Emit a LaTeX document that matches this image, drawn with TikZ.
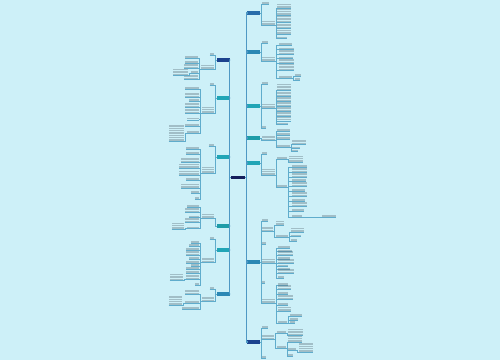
\documentclass[tikz,border=0pt]{standalone}
\usepackage{tikz}
\usetikzlibrary{positioning,calc}

\definecolor{bgcyan}{RGB}{205,240,248}
\definecolor{navy}{RGB}{20,30,92}
\definecolor{txtgray}{RGB}{90,110,120}
\definecolor{wireblue}{RGB}{95,172,204}
\definecolor{trunkblue}{RGB}{78,152,196}
\definecolor{cdark}{RGB}{27,66,142}
\definecolor{cblue}{RGB}{40,108,170}
\definecolor{cmid}{RGB}{43,136,181}
\definecolor{cteal}{RGB}{33,165,182}
\definecolor{cteal2}{RGB}{30,156,168}

\newcommand{\px}{0.02cm}
% text on the right: name, left end, underline y, width, lines
\newcommand{\rtxt}[5]{\node[txtline=#5,anchor=south west,minimum width=#4*\px,minimum height=#5*2.3*\px] (#1) at (#2,#3) {};
  \draw[uline] (#1.south west) -- (#1.south east);}
% text on the left: name, right end, underline y, width, lines
\newcommand{\ltxt}[5]{\node[txtline=#5,anchor=south east,minimum width=#4*\px,minimum height=#5*2.3*\px] (#1) at (#2,#3) {};
  \draw[uline] (#1.south west) -- (#1.south east);}
\newcommand{\rlink}[2]{\draw[wire] (#1.south east) -- ++(1.5,0) |- (#2.south west);}
\newcommand{\llink}[2]{\draw[wire] (#1.south west) -- ++(-1.5,0) |- (#2.south east);}
\newcommand{\rtie}[2]{\draw[wire] (#1.east) -- ++(1,0) |- (#2.south west);}
\newcommand{\ltie}[2]{\draw[wire] (#1.west) -- ++(-1,0) |- (#2.south east);}

\begin{document}
\begin{tikzpicture}[x=0.02cm,y=-0.02cm,
  txtline/.style={inner sep=0pt,outer sep=0pt,
    path picture={\foreach \k in {1,...,#1}
      \fill[txtgray,opacity=0.38] ($(path picture bounding box.north west)+(0.3,{(\k-1)*2.3+0.5})$)
        rectangle ($(path picture bounding box.north east)+(-0.3,{(\k-1)*2.3+1.8})$);}},
  uline/.style={draw=wireblue,line width=0.2pt},
  wire/.style={draw=wireblue,line width=0.25pt},
  trunk/.style={draw=trunkblue,line width=0.8pt},
  topic/.style={inner sep=0pt,outer sep=0pt,minimum width=13*\px,minimum height=3.2*\px},
  rootbox/.style={inner sep=0pt,outer sep=0pt,fill=navy,minimum width=14*\px,minimum height=3.8*\px}]

\fill[bgcyan] (0,0) rectangle (500,360);
\useasboundingbox (0,0) rectangle (500,360);

\node[rootbox] (root) at (238,177.5) {};

% main topics, right
\node[topic,fill=cblue] (r1) at (253.5,13) {};
\node[topic,fill=cmid] (r2) at (253.5,52) {};
\node[topic,fill=cteal] (r3) at (253.5,106) {};
\node[topic,fill=cteal2] (r4) at (253.5,138) {};
\node[topic,fill=cteal] (r5) at (253.5,163) {};
\node[topic,fill=cmid] (r6) at (253.5,262) {};
\node[topic,fill=cdark] (r7) at (253.5,342) {};
% main topics, left
\node[topic,fill=cdark] (l1) at (223,60) {};
\node[topic,fill=cteal] (l2) at (223,98) {};
\node[topic,fill=cteal] (l3) at (223,157) {};
\node[topic,fill=cteal2] (l4) at (223,226) {};
\node[topic,fill=cteal] (l5) at (223,250) {};
\node[topic,fill=cmid] (l6) at (223,294) {};

\foreach \t in {r1,r2,r3,r4,r5,r6,r7}
  \draw[trunk] (root.east) -- ++(1.5,0) |- (\t.west);
\foreach \t in {l1,l2,l3,l4,l5,l6}
  \draw[trunk] (root.west) -- ++(-1.5,0) |- (\t.east);

% ---- r1
\rtxt{r1a}{262}{4}{7}{1} \rtxt{r1b}{262}{25}{13}{2}
\rtie{r1}{r1a} \rtie{r1}{r1b}
\rtxt{r1b1}{277}{8}{14}{2} \rtxt{r1b2}{277}{15}{14}{3} \rtxt{r1b3}{277}{22.5}{14}{3}
\rtxt{r1b4}{277}{28.5}{14}{2} \rtxt{r1b5}{277}{34}{14}{2} \rtxt{r1b6}{277}{38.5}{10}{1}
\foreach \k in {1,...,6} {\rlink{r1b}{r1b\k}}

% ---- r2
\rtxt{r2a}{262}{43}{6}{1} \rtxt{r2b}{262}{61}{13}{2}
\rtie{r2}{r2a} \rtie{r2}{r2b}
\rtxt{r2b1}{279}{45}{13}{1} \rtxt{r2b2}{279}{49.5}{15}{1} \rtxt{r2b3}{279}{54.5}{15}{2}
\rtxt{r2b4}{279}{58.5}{14}{1} \rtxt{r2b5}{279}{63.5}{15}{2} \rtxt{r2b6}{279}{70.5}{15}{3}
\rtxt{r2b7}{279}{78}{13}{1}
\foreach \k in {1,...,7} {\rlink{r2b}{r2b\k}}
\rtxt{r2c1}{295}{76}{6}{1} \rtxt{r2c2}{295}{80}{5}{1}
\rlink{r2b7}{r2c1} \rlink{r2b7}{r2c2}

% ---- r3
\rtxt{r3a}{262}{84}{6}{1} \rtxt{r3b}{262}{108}{13}{2} \rtxt{r3c}{262}{128}{4}{1}
\rtie{r3}{r3a} \rtie{r3}{r3b} \rtie{r3}{r3c}
\rtxt{r3b1}{277}{90.5}{14}{3} \rtxt{r3b2}{277}{96.3}{14}{2} \rtxt{r3b3}{277}{101.3}{14}{2}
\rtxt{r3b4}{277}{106.3}{14}{2} \rtxt{r3b5}{277}{111.3}{14}{2} \rtxt{r3b6}{277}{116.3}{14}{2}
\rtxt{r3b7}{277}{120.8}{14}{2} \rtxt{r3b8}{277}{124.5}{11}{1}
\foreach \k in {1,...,8} {\rlink{r3b}{r3b\k}}

% ---- r4
\rtxt{r4a}{262}{140.3}{13}{2}
\rtie{r4}{r4a}
\rtxt{r4a1}{277}{131}{13}{1} \rtxt{r4a2}{277}{135}{13}{1} \rtxt{r4a3}{277}{139}{13}{1}
\rtxt{r4a4}{277}{147}{13}{1}
\foreach \k in {1,...,4} {\rlink{r4a}{r4a\k}}
\rtxt{r4b1}{292}{144.3}{14}{2} \rtxt{r4b2}{292}{148.5}{8}{1} \rtxt{r4b3}{292}{151.5}{6}{1}
\foreach \k in {1,2,3} {\rlink{r4a4}{r4b\k}}

% ---- r5
\rtxt{r5a}{262}{154}{5}{1} \rtxt{r5b}{262}{175}{13}{3}
\rtie{r5}{r5a} \rtie{r5}{r5b}
\rtxt{r5b1}{277}{159}{10}{1} \rtxt{r5b2}{277}{187}{10}{1}
\rlink{r5b}{r5b1} \rlink{r5b}{r5b2}
\rtxt{r5c}{289}{162}{14}{3}
\rlink{r5b1}{r5c}
\rtxt{r5d1}{292}{167.2}{15}{1} \rtxt{r5d2}{292}{172.3}{15}{2} \rtxt{r5d3}{292}{177.3}{15}{2}
\rtxt{r5d4}{292}{181.2}{14}{1} \rtxt{r5d5}{292}{186.3}{15}{2} \rtxt{r5d6}{292}{191.2}{13}{1}
\rtxt{r5d7}{292}{196.3}{15}{2} \rtxt{r5d8}{292}{201.2}{13}{1} \rtxt{r5d9}{292}{206.3}{15}{2}
\rtxt{r5d10}{292}{211.2}{12}{1} \rtxt{r5d11}{292}{217.2}{10}{1}
\foreach \k in {1,...,11} {\rlink{r5b2}{r5d\k}}
\rtxt{r5e}{322}{217.2}{14}{1}
\rlink{r5d11}{r5e}

% ---- r6
\rtxt{r6a}{262}{221}{6}{1} \rtxt{r6b}{262}{231.5}{11}{2} \rtxt{r6c}{262}{244}{4}{1}
\rtxt{r6d}{262}{263}{13}{2} \rtxt{r6e}{262}{283}{3}{1} \rtxt{r6f}{262}{303}{13}{2}
\foreach \t in {r6a,r6b,r6c,r6d,r6e,r6f} {\rtie{r6}{\t}}
\rtxt{r6b1}{276}{225}{8}{2} \rtxt{r6b2}{276}{237}{12}{1}
\rlink{r6b}{r6b1} \rlink{r6b}{r6b2}
\rtxt{r6g1}{291}{232}{13}{2} \rtxt{r6g2}{291}{236.5}{10}{1} \rtxt{r6g3}{291}{241}{6}{1}
\foreach \k in {1,2,3} {\rlink{r6b2}{r6g\k}}
\rtxt{r6d1}{278}{248.2}{12}{1} \rtxt{r6d2}{278}{251.5}{14}{1} \rtxt{r6d3}{278}{255.3}{15}{2}
\rtxt{r6d4}{278}{259.2}{12}{1} \rtxt{r6d5}{278}{263.3}{16}{2} \rtxt{r6d6}{278}{266.5}{10}{1}
\rtxt{r6d7}{278}{269.5}{12}{1} \rtxt{r6d8}{278}{273.3}{16}{2} \rtxt{r6d9}{278}{278}{6}{1}
\foreach \k in {1,...,9} {\rlink{r6d}{r6d\k}}
\rtxt{r6f1}{278}{285}{10}{1} \rtxt{r6f2}{278}{289.5}{13}{2} \rtxt{r6f3}{278}{294}{10}{1}
\rtxt{r6f4}{278}{299.5}{15}{2} \rtxt{r6f5}{278}{305}{10}{1} \rtxt{r6f6}{278}{311}{13}{2}
\rtxt{r6f7}{278}{323}{9}{1}
\foreach \k in {1,...,7} {\rlink{r6f}{r6f\k}}
\rtxt{r6h1}{290}{316}{12}{1} \rtxt{r6h2}{290}{320}{8}{1} \rtxt{r6h3}{290}{323}{5}{1}
\foreach \k in {1,2,3} {\rlink{r6f7}{r6h\k}}

% ---- r7
\rtxt{r7a}{262}{328}{6}{1} \rtxt{r7b}{262}{339.5}{12}{2} \rtxt{r7c}{262}{358}{4}{1}
\rtie{r7}{r7a} \rtie{r7}{r7b} \rtie{r7}{r7c}
\rtxt{r7b1}{277}{333}{9}{1} \rtxt{r7b2}{277}{348}{9}{1}
\rlink{r7b}{r7b1} \rlink{r7b}{r7b2}
\rtxt{r7d}{288}{335.5}{15}{3}
\rlink{r7b1}{r7d}
\rtxt{r7e1}{288}{342}{14}{3} \rtxt{r7e2}{288}{350}{8}{1} \rtxt{r7e3}{288}{356}{5}{1}
\foreach \k in {1,2,3} {\rlink{r7b2}{r7e\k}}
\rtxt{r7f}{299}{352}{14}{4}
\rlink{r7e2}{r7f}

% ---- l1
\ltxt{l1a}{214.5}{55}{5}{1} \ltxt{l1b}{214.5}{69}{14}{2}
\ltie{l1}{l1a} \ltie{l1}{l1b}
\ltxt{l1b1}{198}{58}{13}{1} \ltxt{l1b2}{198}{63}{13}{1} \ltxt{l1b3}{198}{68.3}{14}{2}
\ltxt{l1b4}{198}{73}{7}{1} \ltxt{l1b5}{198}{79.3}{14}{2}
\foreach \k in {1,...,5} {\llink{l1b}{l1b\k}}
\ltxt{l1c}{188}{75.5}{15}{3}
\llink{l1b4}{l1c}

% ---- l2
\ltxt{l2a}{214.5}{85}{5}{1} \ltxt{l2b}{214.5}{113}{13}{3}
\ltie{l2}{l2a} \ltie{l2}{l2b}
\ltxt{l2b1}{199}{89.2}{14}{1} \ltxt{l2b2}{199}{97.3}{14}{2} \ltxt{l2b3}{199}{101.2}{10}{1}
\ltxt{l2b4}{199}{107.3}{14}{2} \ltxt{l2b5}{199}{113.3}{14}{2} \ltxt{l2b6}{199}{119.7}{12}{1}
\ltxt{l2b7}{199}{126.2}{14}{1} \ltxt{l2b8}{199}{133.2}{12}{1}
\foreach \k in {1,...,8} {\llink{l2b}{l2b\k}}
\ltxt{l2c}{184.5}{141}{16}{7}
\llink{l2b8}{l2c}

% ---- l3
\ltxt{l3a}{214.5}{146}{6}{1} \ltxt{l3b}{214.5}{173}{13}{3}
\ltie{l3}{l3a} \ltie{l3}{l3b}
\ltxt{l3b1}{199}{149}{13}{1} \ltxt{l3b2}{199}{154}{13}{1} \ltxt{l3b3}{199}{162.3}{18}{2}
\ltxt{l3b4}{199}{168}{20}{2} \ltxt{l3b5}{199}{175}{20}{2} \ltxt{l3b6}{199}{180}{13}{1}
\ltxt{l3b7}{199}{188}{18}{2} \ltxt{l3b8}{199}{193}{8}{1} \ltxt{l3b9}{199}{199}{4}{1}
\foreach \k in {1,...,9} {\llink{l3b}{l3b\k}}

% ---- l4
\ltxt{l4a}{214.5}{218}{13}{2}
\ltie{l4}{l4a}
\ltxt{l4a1}{199}{207}{12}{1} \ltxt{l4a2}{199}{212.3}{14}{2} \ltxt{l4a3}{199}{217.5}{10}{1}
\ltxt{l4a4}{199}{222.3}{14}{2} \ltxt{l4a5}{199}{228.5}{12}{1}
\foreach \k in {1,...,5} {\llink{l4a}{l4a\k}}
\ltxt{l4c}{184.5}{229}{13}{3}
\llink{l4a5}{l4c}

% ---- l5
\ltxt{l5a}{214.5}{239}{5}{1} \ltxt{l5b}{214.5}{262.5}{13}{2}
\ltie{l5}{l5a} \ltie{l5}{l5b}
\ltxt{l5b1}{199}{243}{8}{1} \ltxt{l5b2}{199}{246}{10}{1} \ltxt{l5b3}{199}{250}{13}{1}
\ltxt{l5b4}{199}{255.3}{13}{2} \ltxt{l5b5}{199}{259}{10}{1} \ltxt{l5b6}{199}{263}{13}{1}
\ltxt{l5b7}{199}{266}{8}{1} \ltxt{l5b8}{199}{269}{13}{1} \ltxt{l5b9}{199}{273}{13}{1}
\ltxt{l5b10}{199}{279.3}{13}{2} \ltxt{l5b11}{199}{285}{4}{1}
\foreach \k in {1,...,11} {\llink{l5b}{l5b\k}}
\ltxt{l5c}{183.5}{280.5}{14}{3}
\llink{l5b10}{l5c}

% ---- l6
\ltxt{l6a}{214.5}{289}{5}{1} \ltxt{l6b}{214.5}{301.5}{13}{2}
\ltie{l6}{l6a} \ltie{l6}{l6b}
\ltxt{l6b1}{199}{294.3}{14}{2} \ltxt{l6b2}{199}{303}{14}{1} \ltxt{l6b3}{199}{309}{17}{1}
\foreach \k in {1,2,3} {\llink{l6b}{l6b\k}}
\ltxt{l6c}{182.5}{305}{14}{4}
\llink{l6b2}{l6c}
\end{tikzpicture}
\end{document}
